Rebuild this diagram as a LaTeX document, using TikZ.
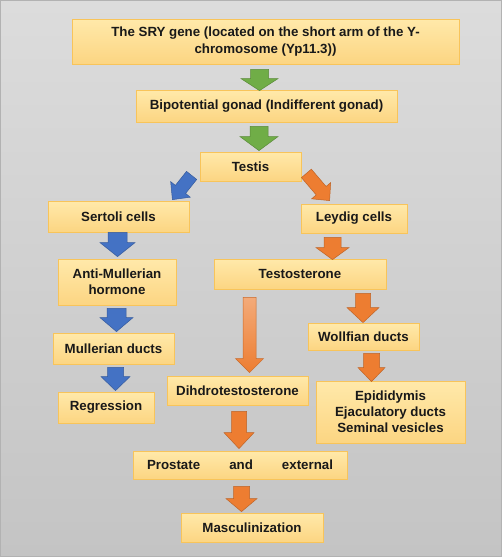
\documentclass[tikz,border=0pt]{standalone}
\usepackage{fontspec}
\setmainfont{Liberation Sans}
\usetikzlibrary{calc}

\definecolor{boxtop}{RGB}{255,233,170}
\definecolor{boxbot}{RGB}{252,213,130}
\definecolor{boxline}{RGB}{248,196,90}
\definecolor{sexgreen}{RGB}{112,173,71}
\definecolor{sexblue}{RGB}{68,114,196}
\definecolor{sexorange}{RGB}{237,125,49}
\definecolor{bgtop}{RGB}{220,220,220}
\definecolor{bgbot}{RGB}{196,196,196}

% block arrow: style, from, to, half shaft, half head, head length
\newcommand{\fatarrow}[6]{%
  \path (#2) coordinate (fa-s) (#3) coordinate (fa-e);
  \coordinate (fa-n) at ($(fa-e)!#6!(fa-s)$);
  \path[#1] ($(fa-s)!#4!90:(fa-e)$) -- ($(fa-n)!#4!90:(fa-e)$)
    -- ($(fa-n)!#5!90:(fa-e)$) -- (fa-e) -- ($(fa-n)!#5!-90:(fa-e)$)
    -- ($(fa-n)!#4!-90:(fa-e)$) -- ($(fa-s)!#4!-90:(fa-e)$) -- cycle;}

\begin{document}
\begin{tikzpicture}[
    x = 1pt, y = -1pt,
    stage/.style = {draw = boxline, line width = 0.8pt,
      top color = boxtop, bottom color = boxbot,
      align = center, inner sep = 0pt, text = black!90,
      font = \bfseries\fontsize{13.3}{16}\selectfont},
    greenarrow/.style  = {fill = sexgreen, draw = sexgreen!80!black, line width = 0.5pt},
    bluearrow/.style   = {fill = sexblue, draw = sexblue!80!black, line width = 0.5pt},
    orangearrow/.style = {fill = sexorange, draw = sexorange!80!black, line width = 0.5pt},
    fadearrow/.style   = {top color = sexorange!65!white, bottom color = sexorange,
      draw = sexorange!85!black, line width = 0.5pt}
  ]
  \useasboundingbox (0,0) rectangle (502,557);
  \path[top color = bgtop, bottom color = bgbot, draw = black!30, line width = 1pt]
    (0.5,0.5) rectangle (501.5,556.5);

  % boxes
  \node[stage, minimum width = 387pt, minimum height = 45pt,
        font = \bfseries\fontsize{13.3}{17}\selectfont] (sry) at (265.5,41.5)
    {The SRY gene (located on the short arm of the Y-\\chromosome (Yp11.3))};
  \node[stage, minimum width = 261pt, minimum height = 32pt] (bip) at (266.5,106)
    {Bipotential gonad (Indifferent gonad)};
  \node[stage, minimum width = 101pt, minimum height = 29pt] (testis) at (250.5,166.5) {Testis};
  \node[stage, minimum width = 141pt, minimum height = 31pt] (sertoli) at (118.5,216.5) {Sertoli cells};
  \node[stage, minimum width = 106pt, minimum height = 29pt] (leydig) at (354,218.5) {Leydig cells};
  \node[stage, minimum width = 118pt, minimum height = 46pt] (amh) at (117,282) {Anti-Mullerian\\hormone};
  \node[stage, minimum width = 172pt, minimum height = 30pt] (testo) at (300,274) {Testosterone};
  \node[stage, minimum width = 121pt, minimum height = 31pt] (mull) at (113.5,348.5) {Mullerian ducts};
  \node[stage, minimum width = 111pt, minimum height = 27pt] (wolff) at (363.5,336.5) {Wollfian ducts};
  \node[stage, minimum width = 141pt, minimum height = 29pt] (dht) at (237.5,390.5) {Dihdrotestosterone};
  \node[stage, minimum width = 96pt, minimum height = 31pt] (regr) at (106,407.5) {Regression};
  \node[stage, minimum width = 149pt, minimum height = 62pt] (epi) at (390.5,412)
    {Epididymis\\Ejaculatory ducts\\Seminal vesicles};
  \node[stage, minimum width = 214pt, minimum height = 28pt] (prost) at (240,465)
    {\makebox[186pt][s]{Prostate and external}};
  \node[stage, minimum width = 142pt, minimum height = 29pt] (masc) at (252,527.5) {Masculinization};

  % arrows
  \fatarrow{greenarrow}{$(sry.south)+(-6,5)$}{$(bip.north)+(-7,1)$}{9pt}{18.5pt}{12pt}
  \fatarrow{greenarrow}{$(bip.south)+(-7.5,4)$}{$(testis.north)+(8.5,-1)$}{9pt}{19pt}{14pt}
  \fatarrow{bluearrow}{$(testis.south west)+(-8,-6)$}{$(sertoli.north east)+(-17,-1)$}{6.5pt}{12.5pt}{13pt}
  \fatarrow{orangearrow}{$(testis.south east)+(5,-8)$}{$(leydig.north west)+(29,-3)$}{6.5pt}{12.5pt}{13pt}
  \fatarrow{bluearrow}{$(sertoli.south)+(-1,0)$}{$(amh.north)+(0.5,-2)$}{9.5pt}{17.5pt}{14pt}
  \fatarrow{orangearrow}{$(leydig.south)+(-21.5,4)$}{$(testo.north)+(32.5,1)$}{8.5pt}{16.5pt}{12pt}
  \fatarrow{bluearrow}{$(amh.south)+(-0.5,3)$}{$(mull.north)+(3,-1)$}{9.5pt}{16.5pt}{14pt}
  \fatarrow{orangearrow}{$(testo.south)+(63,4)$}{$(wolff.north)+(-0.5,0)$}{7.5pt}{16pt}{15pt}
  \fatarrow{bluearrow}{$(mull.south)+(2,3)$}{$(regr.north)+(9.5,-1)$}{8pt}{14.5pt}{14pt}
  \fatarrow{fadearrow}{$(testo.south)+(-50.5,8)$}{$(dht.north)+(12,-3)$}{6.5pt}{14pt}{14pt}
  \fatarrow{orangearrow}{$(wolff.south)+(8,3)$}{$(epi.north)+(-19,1)$}{8pt}{13.5pt}{14pt}
  \fatarrow{orangearrow}{$(dht.south)+(1.5,6)$}{$(prost.north)+(-1,-2)$}{7.5pt}{15pt}{16pt}
  \fatarrow{orangearrow}{$(prost.south)+(1.5,7)$}{$(masc.north)+(-10.5,-1)$}{8pt}{15.5pt}{13pt}
\end{tikzpicture}
\end{document}
